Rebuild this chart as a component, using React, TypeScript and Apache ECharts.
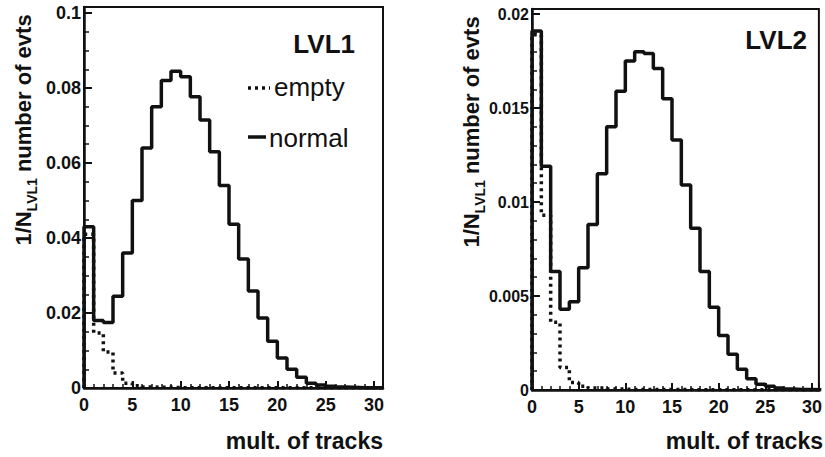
import React, { useEffect, useRef } from 'react';
import * as echarts from 'echarts';

// bin edges of the multiplicity histograms (unit-wide bins)
const binEdges = [0, 1, 2, 3, 4, 5, 6, 7, 8, 9, 10, 11, 12, 13, 14, 15, 16, 17, 18, 19, 20, 21, 22, 23, 24, 25, 26, 27, 28, 29, 30, 31];

// LVL1 panel
const lvl1Normal = [0.043, 0.018, 0.0175, 0.0245, 0.036, 0.05, 0.064, 0.075, 0.082, 0.0845, 0.083, 0.0777, 0.0715, 0.063, 0.054, 0.0437, 0.0344, 0.0259, 0.0187, 0.0125, 0.008, 0.005, 0.0029, 0.0013, 0.0008, 0.0005, 0.0003, 0.0002, 0.0001, 0.0001, 0.00005];
const lvl1Empty = [0.041, 0.0147, 0.0096, 0.004, 0.0013, 0.0006, 0.0003, 0.0002, 0.0002, 0.0001, 0.0001, 0.0001, 0.0001, 0.0001, 0.0001, 0.00005, 0.00005, 0.00005, 0.00005, 0.00005, 0.00005, 0.00005, 0.00005, 0.00005, 0.00005, 0.00005, 0.00005, 0.00005, 0.00005, 0.00005, 0.00005];

// LVL2 panel
const lvl2Normal = [0.0191, 0.0119, 0.0063, 0.0043, 0.0047, 0.0065, 0.0088, 0.0115, 0.014, 0.0159, 0.0175, 0.018, 0.0179, 0.0171, 0.0155, 0.0133, 0.0109, 0.0086, 0.0063, 0.0044, 0.0029, 0.0019, 0.0011, 0.0006, 0.0003, 0.0002, 0.0001, 0.00005, 0.00003, 0.00002, 0.00001];
const lvl2Empty = [0.0189, 0.0093, 0.0036, 0.0012, 0.0004, 0.0002, 0.0001, 0.0001, 0.00005, 0.00005, 0.00003, 0.00003, 0.00003, 0.00002, 0.00002, 0.00002, 0.00002, 0.00001, 0.00001, 0.00001, 0.00001, 0.00001, 0.00001, 0.00001, 0.00001, 0.00001, 0.00001, 0.00001, 0.00001, 0.00001, 0.00001];

// tick steps
const xMajorStep = 5;
const xMinorStep = 1;
const lvl1YMajor = 0.02;
const lvl1YMinor = 0.005;
const lvl2YMajor = 0.005;
const lvl2YMinor = 0.001;

const titles = { panel1: 'LVL1', panel2: 'LVL2', xName: 'mult. of tracks', legendEmpty: 'empty', legendNormal: 'normal' };

const INK = '#111';
const FONT = '"Liberation Sans", Arial, Helvetica, sans-serif';

function toSteps(vals: number[]) {
  const pts: number[][] = [[binEdges[0], 0]];
  vals.forEach((v, i) => pts.push([binEdges[i], v]));
  pts.push([binEdges[vals.length], vals[vals.length - 1]]);
  return pts;
}

function fmt(step: number) {
  return (v: number) => {
    const r = v / step;
    if (Math.abs(r - Math.round(r)) > 1e-6) return '';
    if (Math.abs(v) < 1e-12) return '0';
    return String(parseFloat(v.toFixed(4)));
  };
}

export default function App() {
  const ref = useRef<HTMLDivElement>(null);
  useEffect(() => {
    if (!ref.current) return;
    const chart = echarts.init(ref.current, null, { renderer: 'svg' });

    const majorX = (grid: number, max: number) => ({
      type: 'value', gridIndex: grid, min: 0, max, interval: xMajorStep, position: 'bottom',
      axisLine: { show: true, lineStyle: { color: INK, width: 2.5 } },
      axisTick: { show: true, inside: true, length: 7, lineStyle: { color: INK, width: 2 } },
      axisLabel: { formatter: fmt(xMajorStep), color: INK, fontSize: 18, fontWeight: 'bold', fontFamily: FONT, margin: 8 },
      splitLine: { show: false },
    });
    const minorX = (grid: number, max: number) => ({
      type: 'value', gridIndex: grid, min: 0, max, interval: xMinorStep, position: 'bottom',
      axisLine: { show: false },
      axisTick: { show: true, inside: true, length: 4, lineStyle: { color: INK, width: 1.5 } },
      axisLabel: { show: false },
      splitLine: { show: false },
    });
    const majorY = (grid: number, max: number, step: number, fs: number) => ({
      type: 'value', gridIndex: grid, min: 0, max, interval: step, position: 'left',
      axisLine: { show: true, lineStyle: { color: INK, width: 2.5 } },
      axisTick: { show: true, inside: true, length: 8, lineStyle: { color: INK, width: 2 } },
      axisLabel: { formatter: fmt(step), color: INK, fontSize: fs, fontWeight: 'bold', fontFamily: FONT, margin: 3 },
      splitLine: { show: false },
    });
    const minorY = (grid: number, max: number, step: number) => ({
      type: 'value', gridIndex: grid, min: 0, max, interval: step, position: 'left',
      axisLine: { show: false },
      axisTick: { show: true, inside: true, length: 5, lineStyle: { color: INK, width: 1.5 } },
      axisLabel: { show: false },
      splitLine: { show: false },
    });

    const solid = { color: INK, width: 3.5, type: 'solid' };
    const dotted = { color: INK, width: 3.5, type: [3, 4] };
    const hist = (name: string, xi: number, yi: number, vals: number[], ls: any) => ({
      name, type: 'line', step: 'end', xAxisIndex: xi, yAxisIndex: yi, data: toSteps(vals),
      symbol: 'none', lineStyle: ls, clip: true, z: 3,
    });

    const yTitle = (x: number, y: number) => ({
      type: 'text', x, y, rotation: Math.PI / 2,
      style: {
        text: '{a|1/N}{s|LVL1}{a| number of evts}',
        align: 'center', verticalAlign: 'middle', fill: INK,
        rich: {
          a: { fontSize: 22, fontWeight: 'bold', fontFamily: FONT, fill: INK, verticalAlign: 'bottom', lineHeight: 26 },
          s: { fontSize: 14, fontWeight: 'bold', fontFamily: FONT, fill: INK, verticalAlign: 'bottom', lineHeight: 26, padding: [0, 0, -5, 0] },
        },
      },
    });
    const txt = (text: string, x: number, y: number, align: string, size: number, weight: string) => ({
      type: 'text', x, y,
      style: { text, align, verticalAlign: 'middle', fontSize: size, fontWeight: weight, fontFamily: FONT, fill: INK },
    });

    chart.setOption({
      animation: false,
      backgroundColor: '#fff',
      grid: [
        { left: 84, top: 7, width: 299, height: 381, show: true, borderColor: INK, borderWidth: 2, backgroundColor: 'transparent' },
        { left: 532, top: 9, width: 292, height: 381, show: true, borderColor: INK, borderWidth: 2, backgroundColor: 'transparent' },
      ],
      xAxis: [majorX(0, 30.93), minorX(0, 30.93), majorX(1, 30.74), minorX(1, 30.74)],
      yAxis: [
        majorY(0, 0.1016, lvl1YMajor, 18), minorY(0, 0.1016, lvl1YMinor),
        majorY(1, 0.02027, lvl2YMajor, 16), minorY(1, 0.02027, lvl2YMinor),
      ],
      series: [
        hist('LVL1 empty', 0, 0, lvl1Empty, dotted),
        hist('LVL1 normal', 0, 0, lvl1Normal, solid),
        hist('LVL2 empty', 2, 2, lvl2Empty, dotted),
        hist('LVL2 normal', 2, 2, lvl2Normal, solid),
      ],
      graphic: [
        yTitle(21, 130),
        yTitle(469, 132),
        txt(titles.panel1, 355, 44, 'right', 26, 'bold'),
        txt(titles.panel2, 807, 40, 'right', 26, 'bold'),
        txt(titles.xName, 383, 441, 'right', 23, 'bold'),
        txt(titles.xName, 823, 441, 'right', 23, 'bold'),
        { type: 'line', shape: { x1: 248, y1: 88, x2: 270, y2: 88 }, style: { stroke: INK, lineWidth: 3.5, lineDash: [3, 4] } },
        txt(titles.legendEmpty, 274, 87, 'left', 26, 'normal'),
        { type: 'line', shape: { x1: 248, y1: 137, x2: 266, y2: 137 }, style: { stroke: INK, lineWidth: 3.5 } },
        txt(titles.legendNormal, 269, 138, 'left', 26, 'normal'),
      ],
    });
    return () => chart.dispose();
  }, []);
  return <div ref={ref} style={{ position: 'fixed', left: 0, top: 0, width: 825, height: 457, background: '#fff' }} />;
}
